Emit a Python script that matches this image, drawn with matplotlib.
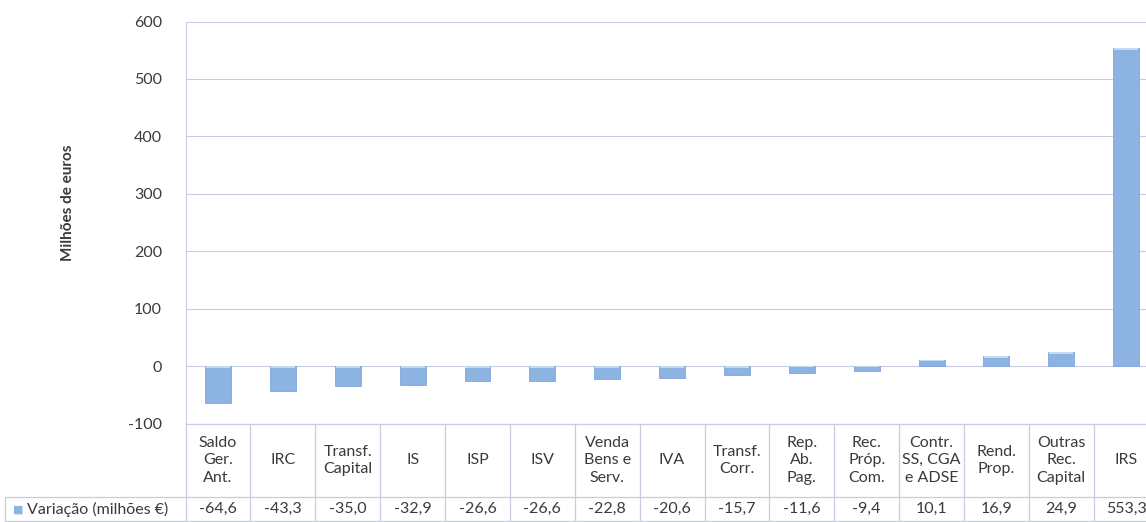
import matplotlib.pyplot as plt
import numpy as np

plt.rcParams['font.family'] = ['Lato', 'DejaVu Sans']
plt.rcParams['axes.unicode_minus'] = False

# dados
categorias = ["Saldo\nGer.\nAnt.", "IRC", "Transf.\nCapital", "IS", "ISP", "ISV",
              "Venda\nBens e\nServ.", "IVA", "Transf.\nCorr.", "Rep.\nAb.\nPag.",
              "Rec.\nPróp.\nCom.", "Contr.\nSS, CGA\ne ADSE", "Rend.\nProp.",
              "Outras\nRec.\nCapital", "IRS"]
variacao = [-64.6, -43.3, -35.0, -32.9, -26.6, -26.6, -22.8, -20.6, -15.7,
            -11.6, -9.4, 10.1, 16.9, 24.9, 553.3]
serie = "Variação (milhões €)"
yticks = [-100, 0, 100, 200, 300, 400, 500, 600]

W, H = 1146, 522
fig = plt.figure(figsize=(W / 100, H / 100), dpi=100)
ax = fig.add_axes([185.6 / W, (H - 423.5) / H, 973 / W, 402 / H])

cor = '#8DB3E2'
linha = '#C9CBE2'
texto = '#3A3A3A'
x = np.arange(len(categorias))
bars = ax.bar(x, variacao, width=0.4, color=cor, edgecolor='#7FA6D8', linewidth=0.6, zorder=3)
# realce claro no topo de cada barra (efeito bisel)
for b, v in zip(bars, variacao):
    h = min(abs(v) * 0.2, 3.5)
    topo = max(v, 0)
    ax.bar(b.get_x() + b.get_width() / 2, -h, bottom=topo, width=0.37,
           color='#C4D9F2', linewidth=0, zorder=4)

ax.set_xlim(-0.5, len(categorias) - 0.5)
ax.set_ylim(-100, 600)
ax.set_yticks(yticks)
ax.tick_params(axis='y', length=0, pad=17, labelsize=11.5, labelcolor=texto)
ax.tick_params(axis='x', length=0, labelbottom=False)
ax.grid(axis='y', color=linha, linewidth=0.8, zorder=0)
for s in ['top', 'right', 'bottom']:
    ax.spines[s].set_visible(False)
ax.spines['left'].set_color(linha)
ax.set_ylabel("Milhões de euros", fontsize=11, fontweight='bold', color=texto)
ax.yaxis.set_label_coords(-(185.6 - 75) / 973, 0.55)

# tabela de dados
tr = ax.get_xaxis_transform()
y_top, y_mid, y_bot = 0.0, -73.5 / 402, -97.5 / 402
x_left = -0.5 - (185.6 - 5) / (973 / 15)
kw = dict(transform=tr, clip_on=False, color=linha, linewidth=0.9)
ax.plot([-0.5, len(categorias) - 0.5], [y_top, y_top], **kw)
ax.plot([x_left, len(categorias) - 0.5], [y_mid, y_mid], **kw)
ax.plot([x_left, len(categorias) - 0.5], [y_bot, y_bot], **kw)
ax.plot([x_left, x_left], [y_mid, y_bot], **kw)
for i in range(len(categorias) + 1):
    ax.plot([i - 0.5, i - 0.5], [y_top, y_bot], **kw)

for i, (c, v) in enumerate(zip(categorias, variacao)):
    ax.text(i, (y_top + y_mid) / 2, c, transform=tr, ha='center', va='center',
            fontsize=11.5, linespacing=1.3, color=texto, clip_on=False)
    ax.text(i, (y_mid + y_bot) / 2, f"{v:.1f}".replace('.', ','), transform=tr,
            ha='center', va='center', fontsize=11.5, color=texto, clip_on=False)

ax.text(x_left + 0.2, (y_mid + y_bot) / 2, "■", transform=tr, ha='center', va='center',
        fontsize=8, color=cor, clip_on=False)
ax.text(x_left + 0.34, (y_mid + y_bot) / 2, serie, transform=tr, ha='left', va='center',
        fontsize=11.5, color=texto, clip_on=False)

fig.savefig('out.png', dpi=100)
